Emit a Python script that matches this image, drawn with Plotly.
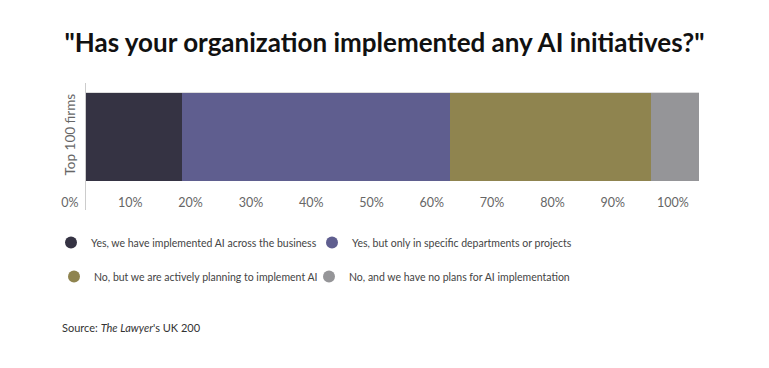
import plotly.graph_objects as go

categories = ["Top 100 firms"]
series_names = [
    "Yes, we have implemented AI across the business",
    "Yes, but only in specific departments or projects",
    "No, but we are actively planning to implement AI",
    "No, and we have no plans for AI implementation",
]
series_values = [15.6, 43.8, 32.8, 7.8]
series_colors = ["#353343", "#5f5e8f", "#8f844f", "#959598"]
tick_values = [0, 10, 20, 30, 40, 50, 60, 70, 80, 90, 100]
tick_labels = [f"{v}%" for v in tick_values]

FONT = "Lato"
W, H = 769, 368
L, R, T, B = 60, 709, 83, 210   # plot area in px
PW, PH = R - L, B - T


def px_x(p):
    return (p - L) / PW


def px_y(p):
    return (B - p) / PH


# legend entry placement (left edge px, top px) - layout only
legend_ids = ["legend", "legend2", "legend3", "legend4"]
legend_pos = [(51, 228), (312, 228), (54, 262), (309, 262)]

fig = go.Figure()
for name, val, col in zip(series_names, series_values, series_colors):
    fig.add_trace(go.Bar(
        y=categories, x=[val], name=name, orientation="h",
        marker=dict(color=col, line=dict(width=0)),
        showlegend=False, hoverinfo="skip",
    ))
# legend entries with round markers
for name, col, lg in zip(series_names, series_colors, legend_ids):
    fig.add_trace(go.Scatter(
        x=[None], y=[None], mode="markers", name=name,
        marker=dict(color=col, size=12, symbol="circle"),
        legend=lg, hoverinfo="skip",
    ))

# invisible trace to register the percentage label axis
fig.add_trace(go.Scatter(x=[None], y=[None], xaxis="x2", yaxis="y2",
                         showlegend=False, hoverinfo="skip"))

legend_layout = {}
for lg, (lx, ly) in zip(legend_ids, legend_pos):
    legend_layout[lg] = dict(
        orientation="h", x=px_x(lx), xanchor="left",
        y=px_y(ly), yanchor="top",
        font=dict(family=FONT, size=10.5, color="#444444"),
        itemsizing="trace", bgcolor="rgba(0,0,0,0)",
    )

fig.update_layout(
    width=W, height=H,
    margin=dict(l=L, r=W - R, t=T, b=H - B, autoexpand=False),
    paper_bgcolor="white", plot_bgcolor="rgba(0,0,0,0)",
    barmode="stack", bargap=0,
    font=dict(family=FONT, color="#444444"),
    title=dict(
        text='<b>"Has your organization implemented any AI initiatives?"</b>',
        x=0.5, xref="container", xanchor="center",
        y=1 - 43 / H, yanchor="middle",
        font=dict(family=FONT, size=26, color="#111111"),
    ),
    xaxis=dict(domain=[px_x(86), px_x(699)], range=[0, 100],
               showticklabels=False, showgrid=False, automargin=False,
               zeroline=False, showline=False, ticks="", fixedrange=True),
    xaxis2=dict(domain=[px_x(70), px_x(673)], anchor="free",
                position=px_y(193), side="bottom", automargin=False,
                range=[0, 100], tickmode="array", tickvals=tick_values,
                ticktext=tick_labels, showgrid=False, zeroline=False,
                showline=False, ticks="",
                tickfont=dict(family=FONT, size=12.5, color="#666666")),
    yaxis=dict(type="category", range=[-0.833, 0.61], tickson="boundaries",
               showgrid=True, gridcolor="#dddddd", gridwidth=1,
               showline=True, linecolor="#cccccc", linewidth=1,
               ticks="", tickangle=-90, zeroline=False, automargin=False,
               ticklabelstandoff=5,
               tickfont=dict(family=FONT, size=13.5, color="#666666")),
    yaxis2=dict(anchor="x2", visible=False, range=[0, 1], showgrid=False,
                zeroline=False),
    annotations=[dict(
        text="Source: <i>The Lawyer</i>'s UK 200",
        xref="paper", yref="paper", x=px_x(60), y=px_y(327),
        xanchor="left", yanchor="middle", showarrow=False,
        font=dict(family=FONT, size=11, color="#333333"),
    )],
    **legend_layout,
)

fig.write_html("out.html", config={"displayModeBar": False},
               post_script="document.body.style.margin='0';")
